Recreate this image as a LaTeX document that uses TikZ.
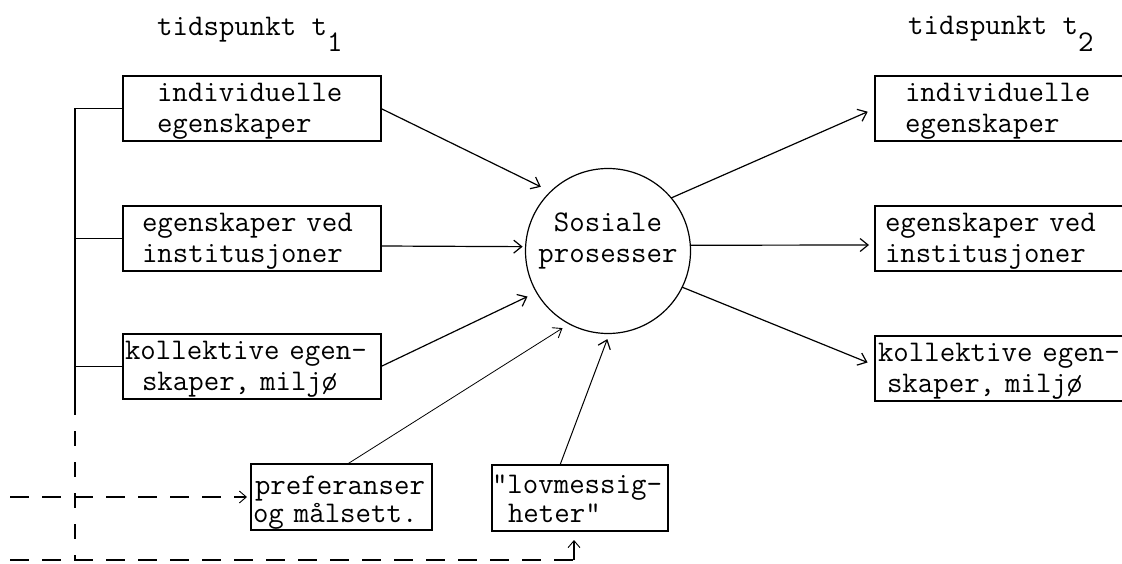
\documentclass[tikz,border=0pt]{standalone}
\usepackage{fontspec}
\usetikzlibrary{arrows.meta}
\newcommand\twfont{\ttfamily\addfontfeatures{FakeBold=0.6}}
\begin{document}
\begin{tikzpicture}[x=1pt,y=-1pt,
  tfont/.style={font=\twfont\fontsize{30pt}{31pt}\selectfont},
  box/.style={draw, line width=1.8pt, inner sep=0pt, outer sep=0pt, anchor=north west,
    align=left, tfont, text height=25.5pt, text depth=39.5pt, minimum height=65pt},
  lbox/.style={box, text width=258pt, minimum width=258pt},
  rbox/.style={box, text width=260pt, minimum width=260pt},
  arr/.style={line width=1.2pt, -{Straight Barb[length=8pt,width=13pt,line width=1.2pt]}},
  thinarr/.style={line width=0.8pt, -{Straight Barb[length=8pt,width=12pt,line width=0.9pt]}},
  dl/.style={line width=1.6pt, dash pattern=on 19pt off 13pt},
  dlarr/.style={dl, -{Straight Barb[length=7pt,width=12pt,line width=0.9pt]}},
  titletext/.style={anchor=base west, inner sep=0pt, tfont}]
\useasboundingbox (0,0) rectangle (1122,564);
\clip (0,0) rectangle (1122,564);

% titles
\node[titletext] (T1) at (157,36) {tidspunkt t\raisebox{-16pt}{1}};
\node[titletext] (T2) at (908,35) {tidspunkt t\raisebox{-17pt}{2}};

% left boxes
\node[lbox] (L1) at (123,76) {\hspace*{34pt}individuelle\\\hspace*{34pt}egenskaper};
\node[lbox] (L2) at (123,206) {\hspace*{19pt}egenskaper ved\\\hspace*{19pt}institusjoner};
\node[lbox] (L3) at (123,334) {\hspace*{2pt}kollektive egen-\\\hspace*{19pt}skaper, miljø};

% right boxes
\node[rbox] (R1) at (875,76) {\hspace*{30pt}individuelle\\\hspace*{30pt}egenskaper};
\node[rbox] (R2) at (875,206) {\hspace*{10pt}egenskaper ved\\\hspace*{10pt}institusjoner};
\node[rbox] (R3) at (875,336) {\hspace*{3pt}kollektive egen-\\\hspace*{12pt}skaper, miljø};

% bottom boxes
\node[box, text width=181pt, minimum width=181pt, minimum height=66pt,
      text height=30pt, text depth=36pt, font=\twfont\fontsize{30pt}{28pt}\selectfont]
  (P) at (251,464) {\hspace*{4pt}preferanser\\\hspace*{2pt}og målsett.};
\node[box, text width=176pt, minimum width=176pt, minimum height=66pt,
      text height=28pt, text depth=38pt, font=\twfont\fontsize{30pt}{29.5pt}\selectfont]
  (V) at (492,465) {\symbol{34}lovmessig-\\\hspace*{16pt}heter\symbol{34}};

% circle
\node[draw, circle, line width=1.2pt, inner sep=0pt, outer sep=0pt, minimum size=165pt,
      text width=150pt, align=center, tfont, text height=10pt, text depth=48pt]
  (C) at (608,251) {Sosiale\\prosesser};

% left vertical bracket
\coordinate (vb) at (75,400);
\draw[line width=1.5pt] (L1.west) -- (L1.west -| vb) -- (vb);
\draw[line width=1.5pt] (L2.west) -- (L2.west -| vb);
\draw[line width=1.5pt] (L3.west) -- (L3.west -| vb);

% dashed feedback lines
\coordinate (m0) at (10,497);
\coordinate (b0) at (10,560);
\coordinate (bc) at ([xshift=-6pt]V.south |- b0);
\draw[line width=1.3pt, dash pattern=on 15pt off 16pt] (vb) -- (vb |- b0);
\draw[dlarr, shorten >=4pt] (m0) -- (P.west);
\draw[dl] (b0) -- (bc);
\draw[line width=1.2pt, -{Straight Barb[length=7pt,width=12pt,line width=0.9pt]}, shorten >=9pt]
  (bc) -- ([xshift=-6pt]V.south);

% arrows into the circle
\draw[arr, shorten >=11pt] (L1.east) -- (C.134);
\draw[arr, shorten >=3pt] ([yshift=-7.5pt]L2.east) -- (C.177);
\draw[arr, shorten >=10pt] (L3.east) -- (C.210);
\draw[thinarr, shorten >=8pt] ([xshift=6pt]P.north) -- (C.242);
\draw[arr, line width=1pt, shorten >=6pt] ([xshift=-20pt]V.north) -- (C.271);

% arrows out of the circle
\draw[arr, shorten >=8pt] (C.40) -- (R1.west);
\draw[arr, shorten >=6pt] (C.4) -- ([yshift=-6.5pt]R2.west);
\draw[arr, shorten >=8pt] (C.334) -- ([yshift=3pt]R3.west);
\end{tikzpicture}
\end{document}
